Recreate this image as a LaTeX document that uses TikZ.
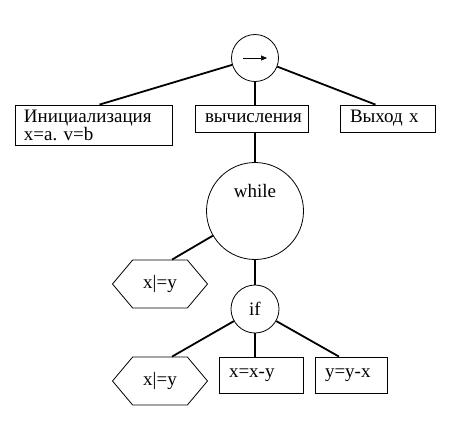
\documentclass[tikz,border=0pt]{standalone}
\usepackage{fontspec}
\setmainfont{Liberation Serif}
\usetikzlibrary{arrows.meta, shapes.symbols}

\begin{document}
\frenchspacing
\begin{tikzpicture}[x=1bp, y=-1bp, line width=0.8bp,
    every node/.style={font=\fontsize{19bp}{18bp}\selectfont},
    blk/.style={draw, align=left, inner xsep=10bp, inner ysep=0pt},
    hex/.style={draw, signal, signal to=east and west, signal pointer angle=100,
      minimum width=95bp, minimum height=48bp, inner sep=0pt},
    ring/.style={draw, circle, inner sep=0pt},
    edge/.style={line width=1.8bp}]
  \useasboundingbox (0,0) rectangle (454,420);

  \node[ring, minimum size=47bp] (seq) at (255,58) {};
  \draw[-{Triangle[length=6bp,width=5bp]}, line width=0.6bp]
    ([xshift=-12bp]seq.center) -- ([xshift=12bp]seq.center);

  \node[blk, text width=139bp, inner xsep=9bp, minimum height=40bp] (init) at (93.5,125) {Инициализация\\x=a. v=b};
  \node[blk, text width=93bp, minimum height=27bp] (calc) at (251.5,118.5) {вычисления};
  \node[blk, text width=75bp, minimum height=27bp] (out) at (387.5,118.5) {Выход x};

  \node[ring, minimum size=97bp] (loop) at (255,211) {};
  \node (looptxt) at (255,191) {while};
  \node[hex] (cond1) at (160,284) {x|=y};

  \node[ring, minimum size=48bp] (branch) at (255,309) {if};
  \node[hex] (cond2) at (160,381) {x|=y};
  \node[blk, text width=64bp, minimum height=36bp] (upd1) at (261,375) {x=x-y};
  \node[blk, text width=52bp, minimum height=36bp] (upd2) at (351,375) {y=y-x};

  \draw[edge] (seq) -- ([xshift=6bp]init.north);
  \draw[edge] (seq) -- (seq |- calc.north);
  \draw[edge] (seq) -- ([xshift=-12bp]out.north);
  \draw[edge] (calc.south -| loop) -- (loop);
  \draw[edge] (loop) -- ([xshift=12bp]cond1.north);
  \draw[edge] (loop) -- (branch);
  \draw[edge] (branch) -- ([xshift=12bp]cond2.north);
  \draw[edge] (branch) -- (branch |- upd1.north);
  \draw[edge] (branch) -- ([xshift=-12bp]upd2.north);
\end{tikzpicture}
\end{document}
